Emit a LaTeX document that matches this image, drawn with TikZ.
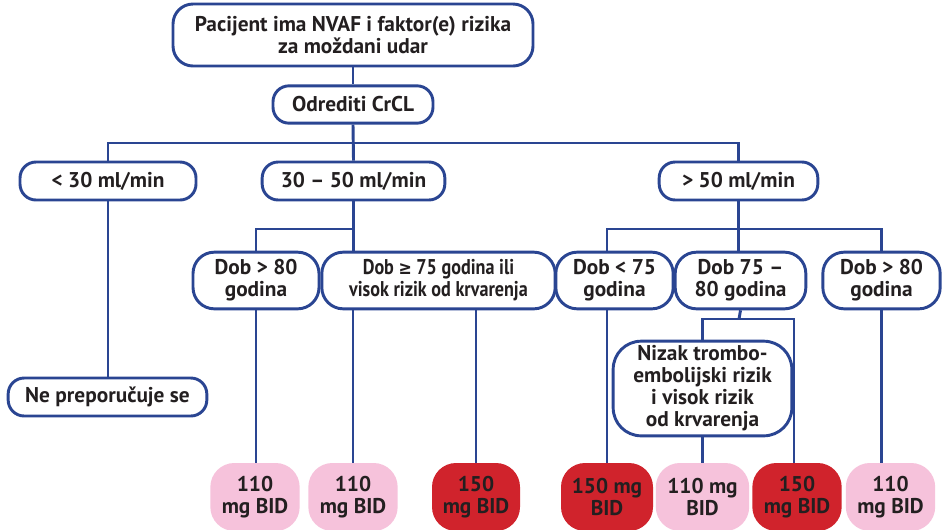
\documentclass[tikz,border=0pt]{standalone}
\usepackage{fontspec}
\setmainfont{PT Sans}
\newfontfamily\narrowfont{PT Sans}[FakeStretch=0.85]
\newfontfamily\symfont{DejaVu Sans}[FakeStretch=0.85]
\definecolor{navy}{HTML}{2A4592}
\definecolor{ink}{HTML}{231F20}
\definecolor{pinkfill}{HTML}{F6C2DB}
\definecolor{redfill}{HTML}{D0232C}
\tikzset{
  every node/.style={font=\fontsize{16}{16.5}\selectfont\bfseries, text=ink, align=center, inner sep=0pt},
  pill/.style={draw=navy, line width=2.2pt, fill=white, rounded corners=12pt},
  pillbig/.style={draw=navy, line width=2.2pt, fill=white, rounded corners=16pt},
  dosepink/.style={fill=pinkfill, rounded corners=18pt, minimum width=67pt, minimum height=51pt},
  dosered/.style={fill=redfill, rounded corners=18pt, minimum width=67pt, minimum height=51pt},
  link/.style={draw=navy, line width=2.2pt},
}
\begin{document}
\begin{tikzpicture}[x=0.75pt,y=-0.75pt]
\useasboundingbox (0,0) rectangle (944,529);
\begin{scope}
\clip (0,0) rectangle (944,529);
% decision boxes
\node[pill, rounded corners=15pt, minimum width=270pt, minimum height=46.5pt] (top) at (353,35) {Pacijent ima NVAF i faktor(e) rizika\\za moždani udar};
\node[pill, minimum width=120pt, minimum height=28pt] (crcl) at (353,104.5) {Odrediti CrCL};
\node[pill, minimum width=132pt, minimum height=28.5pt] (lt30) at (108,181) {< 30 ml/min};
\node[pill, minimum width=137pt, minimum height=28.5pt] (mid) at (353.5,181) {30 – 50 ml/min};
\node[pill, minimum width=119pt, minimum height=28.5pt] (gt50) at (738.5,181) {> 50 ml/min};
\node[pill, minimum width=149pt, minimum height=28.5pt] (ne) at (107.5,397) {Ne preporučuje se};
\node[pillbig, minimum width=94.5pt, minimum height=42.5pt] (oldL) at (256,280.5) {Dob > 80\\godina};
\node[pillbig, minimum width=175pt, minimum height=42.5pt, font=\fontsize{16}{16.5}\narrowfont\bfseries] (risk) at (438.5,280.5) {Dob {\symfont\fontsize{14}{16}\selectfont ≥} 75 godina ili\\visok rizik od krvarenja};
\node[pillbig, minimum width=88pt, minimum height=42.5pt] (young) at (614.5,280.5) {Dob < 75\\godina};
\node[pillbig, minimum width=98pt, minimum height=42.5pt] (midage) at (740.5,280.5) {Dob 75 –\\80 godina};
\node[pillbig, minimum width=88pt, minimum height=42.5pt] (oldR) at (881.5,280.5) {Dob > 80\\godina};
\node[pillbig, rounded corners=21pt, minimum width=134pt, minimum height=71pt] (low) at (702.5,388.5) {Nizak trombo-\\embolijski rizik\\i visok rizik\\od krvarenja};
% dose boxes
\node[dosepink] (d1) at (255,497) {110\\mg BID};
\node[dosepink] (d2) at (353,497) {110\\mg BID};
\node[dosered, minimum width=66pt] (d3) at (476,497) {150\\mg BID};
\node[dosered, minimum width=69pt] (d4) at (607,497) {150 mg\\BID};
\node[dosepink, minimum width=70pt] (d5) at (702.5,497) {110 mg\\BID};
\node[dosered] (d6) at (797,497) {150\\mg BID};
\node[dosepink] (d7) at (890.5,497) {110\\mg BID};
% bus levels
\coordinate (busA) at (353,143);
\coordinate (busB) at (353,229);
\coordinate (busC) at (739,319);
% connectors
\draw[link] (top.south) -- (crcl.north);
\draw[link] (crcl.south) -- (mid.north);
\draw[link] (lt30.north) -- (lt30.north |- busA) -- (gt50.north |- busA) -- (gt50.north);
\draw[link] (lt30.south) -- (lt30.south |- ne.north);
\draw[link] (oldL.north) -- (oldL.north |- busB) -- (mid.south |- busB);
\draw[link] (mid.south) -- (mid.south |- risk.north);
\draw[link] (oldL.south) -- (oldL.south |- d1.north);
\draw[link] (d2.north |- risk.south) -- (d2.north);
\draw[link] (d3.north |- risk.south) -- (d3.north);
\draw[link] (d4.north |- young.north) -- (d4.north |- busB) -- (oldR.north |- busB) -- (oldR.north);
\draw[link] (gt50.south) -- (gt50.south |- midage.north);
\draw[link] (d4.north |- young.south) -- (d4.north);
\draw[link] (midage.south) -- (busC);
\draw[link] (low.north) -- (low.north |- busC) -- ([xshift=-2.25pt]d6.north |- busC) -- ([xshift=-2.25pt]d6.north);
\draw[link] (low.south) -- (low.south |- d5.north);
\draw[link] (oldR.south) -- (oldR.south |- d7.north);
\end{scope}
\end{tikzpicture}
\end{document}
